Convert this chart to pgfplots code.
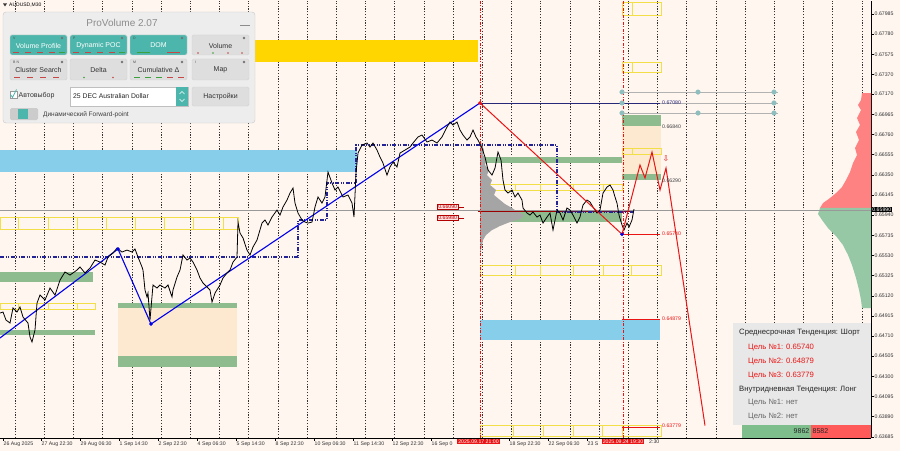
\documentclass[border=0pt]{standalone}
\usepackage{fontspec}
\setmainfont{Liberation Sans}
\newfontfamily\djv{DejaVu Sans}
\usepackage{pgfplots}
\usepackage{pgfplotstable}
\pgfplotsset{compat=1.18}

\definecolor{bg}{RGB}{255,246,240}
\definecolor{goldz}{RGB}{255,214,0}
\definecolor{skyz}{RGB}{135,206,235}
\definecolor{greenz}{RGB}{143,188,143}
\definecolor{peachz}{RGB}{252,233,207}
\definecolor{yelz}{RGB}{242,222,70}
\definecolor{navyd}{RGB}{35,35,150}
\definecolor{navyl}{RGB}{40,40,120}
\definecolor{bluel}{RGB}{0,0,235}
\definecolor{redl}{RGB}{235,20,20}
\definecolor{profg}{RGB}{165,165,165}
\definecolor{profr}{RGB}{255,130,130}
\definecolor{profgr}{RGB}{150,200,165}
\definecolor{tealc}{RGB}{143,190,190}
\definecolor{teal2}{RGB}{77,182,172}
\definecolor{panelbg}{RGB}{237,237,237}
\definecolor{btng}{RGB}{222,222,222}
\definecolor{infobg}{RGB}{232,232,232}
\definecolor{barg}{RGB}{125,190,140}
\definecolor{barr}{RGB}{255,90,90}
\definecolor{dred}{RGB}{200,70,70}
\definecolor{dgrn}{RGB}{60,160,60}

\newcommand{\fs}[1]{\fontsize{#1}{#1}\selectfont}
% filled zone / outlined box / divider, all in axis units
\newcommand{\zone}[5]{\addplot[#5, draw=none] coordinates {(#1,#3) (#2,#3) (#2,#4) (#1,#4)} -- cycle;}
\newcommand{\ybox}[4]{\addplot[yelz, line width=0.8pt] coordinates {(#1,#3) (#2,#3) (#2,#4) (#1,#4)} -- cycle;}
\newcommand{\yv}[3]{\addplot[yelz, line width=0.8pt] coordinates {(#1,#2) (#1,#3)};}
% panel button
\newcommand{\btn}[7]{\filldraw[fill=#5, draw=black!18, rounded corners=1.5pt] (#1,#2) rectangle (#3,#4);
  \node[text=#6, font=\fs{7}, inner sep=0] at ({(#1+#3)/2},{#2+10.5}) {#7};}
\newcommand{\dsh}[3]{\draw[#3, line width=0.8pt] (#1,#2) -- ++(6,0);}

\pgfplotstableread{
x y
0 0.64944
3 0.64954
6 0.64873
10 0.64842
13 0.64995
17 0.64954
20 0.65005
23 0.64903
28 0.64842
30 0.64700
32 0.64649
35 0.64771
37 0.65045
40 0.65127
45 0.65076
50 0.65198
55 0.65127
60 0.65279
65 0.65361
70 0.65330
77 0.65381
80 0.65412
85 0.65351
90 0.65401
95 0.65483
100 0.65462
105 0.65432
108 0.65513
113 0.65554
117 0.65605
122 0.65564
127 0.65584
132 0.65564
135 0.65595
138 0.65513
142 0.65412
143 0.65381
145 0.65178
147 0.65107
148 0.65147
150 0.64873
153 0.65229
157 0.65198
160 0.65229
165 0.65198
168 0.65229
172 0.65107
173 0.65178
177 0.65310
180 0.65381
183 0.65534
187 0.65483
190 0.65503
193 0.65462
197 0.65381
200 0.65300
203 0.65249
207 0.65208
210 0.65178
212 0.65056
215 0.65147
220 0.65229
223 0.65300
227 0.65351
230 0.65381
233 0.65462
237 0.65513
238 0.65869
240 0.65757
243 0.65707
247 0.65584
250 0.65534
253 0.65615
257 0.65686
262 0.65859
265 0.65890
268 0.65839
272 0.65920
277 0.65991
280 0.65940
283 0.66022
287 0.66093
290 0.66164
293 0.66215
295 0.66062
298 0.65961
302 0.65890
305 0.65869
308 0.65859
312 0.65869
315 0.66022
318 0.66124
322 0.66062
325 0.66124
328 0.66378
332 0.66266
335 0.66195
338 0.66225
343 0.66124
348 0.66144
352 0.66062
354 0.65920
356 0.66368
358 0.66571
362 0.66652
367 0.66673
370 0.66632
373 0.66673
377 0.66601
380 0.66530
383 0.66469
387 0.66347
390 0.66429
393 0.66479
397 0.66429
400 0.66571
405 0.66601
410 0.66632
413 0.66673
418 0.66734
422 0.66754
427 0.66683
432 0.66703
437 0.66673
442 0.66734
447 0.66835
450 0.66886
453 0.66856
457 0.66886
460 0.66805
463 0.66754
467 0.66703
470 0.66734
473 0.66805
476 0.66734
478 0.66703
482 0.66622
485 0.66530
488 0.66398
492 0.66347
495 0.66418
498 0.66581
501 0.66500
503 0.66296
505 0.66195
508 0.66164
512 0.66195
515 0.66124
518 0.66164
522 0.66093
523 0.66012
527 0.65961
530 0.65940
533 0.65971
537 0.65920
540 0.65940
543 0.65859
547 0.65920
550 0.65961
553 0.65788
557 0.65991
560 0.65961
563 0.65890
567 0.66012
570 0.65991
573 0.65940
577 0.65859
580 0.65920
583 0.66042
587 0.66093
590 0.66073
593 0.66022
597 0.65961
600 0.65991
603 0.66164
607 0.66225
610 0.66246
613 0.66195
615 0.66124
617 0.66062
619 0.65940
622 0.65839
624 0.65788
627 0.65859
629 0.65818
632 0.65890
634 0.66001
}\pricedata

\begin{document}
\begin{tikzpicture}
\useasboundingbox (0,0) rectangle (900pt,451pt);
\fill[bg] (0,0) rectangle (900pt,451pt);

\begin{axis}[
  at={(0pt,13pt)}, anchor=south west,
  scale only axis, width=871pt, height=437pt,
  xmin=0, xmax=871, ymin=0.63673, ymax=0.68117,
  axis x line*=bottom, axis y line*=right,
  axis line style={black, line width=0.5pt, -},
  tick align=outside, major tick length=2.5pt,
  tick style={black, line width=0.4pt},
  ytick={0.63685,0.63890,0.64095,0.64300,0.64505,0.64710,0.64915,0.65120,0.65325,0.65530,0.65735,0.65940,0.66145,0.66350,0.66555,0.66760,0.66965,0.67170,0.67370,0.67575,0.67780,0.67985},
  yticklabels={0.63685,0.63890,0.64095,0.64300,0.64505,0.64710,0.64915,0.65120,0.65325,0.65530,0.65735,0.65940,0.66145,0.66350,0.66555,0.66760,0.66965,0.67170,0.67370,0.67575,0.67780,0.67985},
  yticklabel style={font=\fs{5.2}, text=black!80, inner sep=1pt},
  xtick={3,41,80,119,158,197,236,275,314,353,392,431,509,548,587},
  xticklabels={26 Aug 2025,27 Aug 22:30,29 Aug 06:30,1 Sep 14:30,2 Sep 22:30,4 Sep 06:30,5 Sep 14:30,8 Sep 22:30,10 Sep 06:30,11 Sep 14:30,12 Sep 22:30,16 Sep 0,18 Sep 22:30,22 Sep 06:30,23 S},
  xticklabel style={font=\fs{5.2}, text=black!80, anchor=north west, inner sep=0.5pt, yshift=-0.5pt},
  extra x ticks={15,44.2,...,862},
  extra x tick labels={},
  extra x tick style={grid=major, major tick length=0pt},
  major grid style={black!80, line width=0.35pt, dash pattern=on 1.2pt off 1.6pt},
]
% zones
\zone{0}{357}{0.66601}{0.66378}{fill=skyz}
\zone{250}{478}{0.67720}{0.67496}{fill=goldz}
\zone{480}{660}{0.64873}{0.64669}{fill=skyz}
\zone{118}{237}{0.64995}{0.64507}{fill=peachz}
\zone{622}{661}{0.66846}{0.66357}{fill=peachz}
\zone{0}{95}{0.64771}{0.64720}{fill=greenz}
\zone{0}{93}{0.65361}{0.65259}{fill=greenz}
\zone{118}{237}{0.65045}{0.64995}{fill=greenz}
\zone{118}{237}{0.64507}{0.64395}{fill=greenz}
\zone{480}{622}{0.66530}{0.66469}{fill=greenz}
\zone{480}{622}{0.65971}{0.65869}{fill=greenz}
\zone{622}{661}{0.66957}{0.66846}{fill=greenz}
\zone{622}{661}{0.66357}{0.66296}{fill=greenz}

% yellow session boxes
\ybox{0}{238}{0.65920}{0.65798}
\yv{18}{0.65920}{0.65798}\yv{48}{0.65920}{0.65798}\yv{77}{0.65920}{0.65798}\yv{106}{0.65920}{0.65798}
\yv{135}{0.65920}{0.65798}\yv{164}{0.65920}{0.65798}\yv{193}{0.65920}{0.65798}\yv{223}{0.65920}{0.65798}
\ybox{0}{95}{0.65045}{0.64984}
\yv{18}{0.65045}{0.64984}\yv{48}{0.65045}{0.64984}\yv{77}{0.65045}{0.64984}
\ybox{480}{622}{0.66256}{0.66195}
\yv{515}{0.66256}{0.66195}\yv{540}{0.66256}{0.66195}\yv{573}{0.66256}{0.66195}\yv{603}{0.66256}{0.66195}
\ybox{480}{661}{0.65432}{0.65330}
\yv{515}{0.65432}{0.65330}\yv{540}{0.65432}{0.65330}\yv{573}{0.65432}{0.65330}\yv{603}{0.65432}{0.65330}\yv{631}{0.65432}{0.65330}
\ybox{480}{661}{0.63805}{0.63693}
\yv{513}{0.63805}{0.63693}\yv{543}{0.63805}{0.63693}\yv{573}{0.63805}{0.63693}\yv{602}{0.63805}{0.63693}\yv{622}{0.63805}{0.63693}
\ybox{622}{661}{0.66622}{0.66561}\yv{632}{0.66622}{0.66561}
\ybox{622}{661}{0.67496}{0.67395}\yv{632}{0.67496}{0.67395}
\ybox{622}{661}{0.68107}{0.67974}\yv{632}{0.68107}{0.67974}

% volume profile of the last days
\addplot[fill=profg, draw=none] coordinates {(480,0.66703) (482,0.66652) (484,0.66601) (483,0.66551) (486,0.66500) (485,0.66449) (489,0.66398) (487,0.66347) (492,0.66296) (490,0.66246) (496,0.66195) (494,0.66144) (500,0.66093) (505,0.66052) (512,0.66012) (518,0.65971) (524,0.65940) (520,0.65900) (510,0.65869) (500,0.65829) (492,0.65788) (486,0.65737) (483,0.65686) (481,0.65584) (480,0.65534)} -- cycle;
% right-side profile
\addplot[fill=profr, draw=none] coordinates {(871,0.67181) (862,0.67181) (861,0.67110) (858,0.67059) (861,0.67008) (857,0.66927) (860,0.66856) (856,0.66785) (859,0.66703) (855,0.66622) (857,0.66551) (853,0.66469) (850,0.66378) (846,0.66296) (842,0.66225) (836,0.66164) (830,0.66113) (823,0.66062) (820,0.66012) (871,0.66012)} -- cycle;
\addplot[fill=profgr, draw=none] coordinates {(871,0.66012) (820,0.66012) (818,0.65951) (822,0.65890) (828,0.65808) (836,0.65727) (843,0.65635) (848,0.65534) (852,0.65432) (856,0.65300) (859,0.65178) (861,0.65076) (862,0.64995) (871,0.64995)} -- cycle;

% bid line
\addplot[black!40, line width=0.4pt] coordinates {(0,0.65990) (871,0.65990)};
\addplot[red!60!black, line width=0.5pt] coordinates {(478,0.65980) (634,0.65980)};

% dynamic POC steps
\addplot[navyd, line width=1.2pt, dash pattern=on 4pt off 1.5pt on 1pt off 1.5pt on 1pt off 1.5pt] coordinates {(0,0.65513) (298,0.65513) (298,0.65890) (327,0.65890) (327,0.66266) (356,0.66266) (356,0.66652) (557,0.66652) (557,0.65971) (633,0.65971)};
\addplot[navyl, line width=0.9pt] coordinates {(480,0.67080) (660,0.67080)};
\addplot[black!30, line width=0.4pt] coordinates {(622,0.67191) (778,0.67191)};
\addplot[black!30, line width=0.4pt] coordinates {(622,0.66978) (778,0.66978)};
\addplot[black!30, line width=0.4pt] coordinates {(660,0.67080) (778,0.67080)};
\addplot[only marks, mark=*, mark size=2.3pt, color=tealc] coordinates {(622,0.67191) (622,0.67080) (622,0.66978) (698,0.67191) (698,0.66978) (774,0.67191) (774,0.67080) (774,0.66978)};

% trend zigzag
\addplot[bluel, line width=1.1pt] coordinates {(0,0.64690) (118,0.65595) (151,0.64832) (480,0.67080)};

% price
\addplot[black, line width=0.8pt] table[x=x, y=y] {\pricedata};

% red forecast
\addplot[redl, line width=0.6pt, dash pattern=on 3pt off 1.5pt on 1pt off 1.5pt] coordinates {(480,0.63673) (480,0.68117)};
\addplot[redl, line width=0.6pt, dash pattern=on 3pt off 1.5pt on 1pt off 1.5pt] coordinates {(623,0.63673) (623,0.68117)};
\addplot[redl, line width=1pt] coordinates {(480,0.67080) (622,0.65745)};
\addplot[redl, line width=1pt] coordinates {(622,0.65745) (640,0.66449) (645,0.66317) (652,0.66581) (660,0.66195) (666,0.66418) (705,0.63800)};
\addplot[redl, line width=1pt] coordinates {(622,0.65745) (660,0.65745)};
\addplot[redl, line width=1pt] coordinates {(622,0.64879) (660,0.64879)};
\addplot[redl, line width=1pt] coordinates {(622,0.63779) (660,0.63779)};
\addplot[only marks, mark=*, mark size=1.6pt, color=bluel] coordinates {(118,0.65595) (151,0.64832) (622,0.65745)};
\addplot[only marks, mark=*, mark size=1.6pt, color=redl] coordinates {(480,0.67080)};
\end{axis}

\begin{scope}[x=1pt, y=-1pt, yshift=451pt]
% level labels
\node[anchor=west, inner sep=0, font=\fs{5.2}, text=navyl] at (662,103) {0.67080};
\node[anchor=west, inner sep=0, font=\fs{5.2}, text=black!75] at (662,126.5) {0.66840};
\node[anchor=west, inner sep=0, font=\fs{5.2}, text=black!75] at (662,180.5) {0.66290};
\node[anchor=west, inner sep=0, font=\fs{5.2}, text=redl] at (662,234) {0.65740};
\node[anchor=west, inner sep=0, font=\fs{5.2}, text=redl] at (662,319) {0.64879};
\node[anchor=west, inner sep=0, font=\fs{5.2}, text=redl] at (662,426) {0.63779};
\node[inner sep=0, font=\djv\fs{8}, text=redl] at (666,159) {⇩};
\node[fill=red!12, draw=red!70!black, text=red!75!black, font=\fs{5.2}, inner sep=0.7pt, anchor=east] at (458,207) {0.66090};
\node[fill=red!12, draw=red!70!black, text=red!75!black, font=\fs{5.2}, inner sep=0.7pt, anchor=east] at (458,218) {0.65980};
\draw[red!70!black, line width=0.5pt] (458,207) -- (464,207) (458,218) -- (464,218);
% date flags and last price
\node[fill=redl, text=white, font=\fs{5.2}, inner sep=0.8pt] at (478.5,441.5) {2025.09.17 21:00};
\node[fill=redl, text=white, font=\fs{5.2}, inner sep=0.8pt] at (623,441.5) {2025.09.24 19:30};
\node[anchor=west, inner sep=0.5pt, font=\fs{5.2}, text=black!80] at (648.5,442) {2:30};
\node[fill=black, text=white, font=\fs{5.2}, inner sep=0.7pt, anchor=west] at (871.5,209.5) {0.65990};
% symbol caption
\fill[black!80] (3,3.5) -- (7,3.5) -- (5,6.5) -- cycle;
\node[anchor=west, inner sep=0, font=\fs{5}] at (9,5.5) {AUDUSD,M30};

% info box
\fill[infobg] (733,323) rectangle (870.5,425);
\node[anchor=west, inner sep=0, font=\fs{7.7}, text=black!85] at (739,333) {Среднесрочная Тенденция: Шорт};
\node[anchor=west, inner sep=0, font=\fs{7.7}, text=redl] at (748,348) {Цель №1: 0.65740};
\node[anchor=west, inner sep=0, font=\fs{7.7}, text=redl] at (748,362) {Цель №2: 0.64879};
\node[anchor=west, inner sep=0, font=\fs{7.7}, text=redl] at (748,375.5) {Цель №3: 0.63779};
\node[anchor=west, inner sep=0, font=\fs{7.7}, text=black!85] at (739,389.5) {Внутридневная Тенденция: Лонг};
\node[anchor=west, inner sep=0, font=\fs{7.7}, text=black!60] at (748,403) {Цель №1: нет};
\node[anchor=west, inner sep=0, font=\fs{7.7}, text=black!60] at (748,416.5) {Цель №2: нет};
\fill[barg] (742,425) rectangle (811,437.5);
\fill[barr] (811,425) rectangle (870.5,437.5);
\node[anchor=east, inner sep=0, font=\fs{7}, text=black!85] at (809.5,431.5) {9862};
\node[anchor=west, inner sep=0, font=\fs{7}, text=black!85] at (812.5,431.5) {8582};

% ProVolume panel
\filldraw[fill=panelbg, draw=black!22, rounded corners=3pt] (3,12) rectangle (255,123);
\node[text=black!45, font=\fs{10}, inner sep=0] at (122,23) {ProVolume 2.07};
\draw[black!45, line width=1pt] (240,26) -- (250,26);
\btn{10}{35}{67}{55}{teal2}{white}{Volume Profile}
\btn{70}{35}{127}{55}{teal2}{white}{Dynamic POC}
\btn{130}{35}{187}{55}{teal2}{white}{DOM}
\btn{192}{35}{249}{55}{btng}{black!80}{Volume}
\btn{10}{59}{67}{80}{btng}{black!80}{Cluster Search}
\btn{70}{59}{127}{80}{btng}{black!80}{Delta}
\btn{130}{59}{187}{80}{btng}{black!80}{Cumulative Δ}
\btn{192}{59}{249}{80}{btng}{black!80}{Map}
\foreach \x/\l in {13/V,73/P,133/D} {\node[anchor=west, inner sep=0, font=\fs{3.5}, text=black!70] at (\x,38) {\l};}
\foreach \x/\l in {13/B N,133/M,195/I} {\node[anchor=west, inner sep=0, font=\fs{3.5}, text=black!70] at (\x,62) {\l};}
\foreach \x in {62,122,182,244} {\fill[black!55] (\x,38) circle (1.3); \fill[black!55] (\x,62) circle (1.3);}
\dsh{13}{52.5}{dred}\dsh{25}{52.5}{dred}\dsh{37}{52.5}{dred}\dsh{49}{52.5}{dred}\dsh{59}{52.5}{dgrn}
\dsh{73}{52.5}{dred}\dsh{85}{52.5}{dred}\dsh{97}{52.5}{dred}\dsh{109}{52.5}{dred}\dsh{119}{52.5}{dgrn}
\draw[dgrn, line width=0.8pt] (137,52.5) -- (150,52.5);
\draw[dred, line width=0.8pt] (167,52.5) -- (180,52.5);
\fill[dred] (198,53) circle (0.9); \fill[dgrn] (213,53) circle (0.9); \fill[dred] (228,53) circle (0.9); \fill[dred] (242,53) circle (0.9);
\dsh{14}{77}{dred}\dsh{27}{77}{dred}\dsh{40}{77}{dred}\dsh{53}{77}{dred}
\fill[dgrn] (84,77.5) circle (0.9); \fill[dred] (113,77.5) circle (0.9);
\dsh{134}{77}{dgrn}\dsh{145}{77}{dgrn}\dsh{156}{77}{dgrn}\dsh{167}{77}{dred}\dsh{178}{77}{dred}
\filldraw[fill=white, draw=black!40] (10,91) rectangle (17,98);
\draw[teal2, line width=0.7pt] (10.5,94.5) -- (12.5,97.5) -- (16.5,89.5);
\node[anchor=west, inner sep=0, font=\fs{7}, text=black!80] at (18.5,95.5) {Автовыбор};
\filldraw[fill=white, draw=black!25] (70,87) rectangle (188,106);
\fill[teal2] (176,87) rectangle (188,106);
\draw[white, line width=0.5pt] (179.5,94) -- (182,91.5) -- (184.5,94) (179.5,99) -- (182,101.5) -- (184.5,99);
\node[anchor=west, inner sep=0, font=\fs{6.8}, text=black!85] at (73,96.5) {25 DEC Australian Dollar};
\filldraw[fill=btng, draw=black!18, rounded corners=1.5pt] (192,87) rectangle (249,106);
\node[inner sep=0, font=\fs{7}, text=black!80] at (220.5,97) {Настройки};
\fill[black!20, rounded corners=1.5pt] (10,108) rectangle (38,120);
\fill[teal2] (18,109) rectangle (28,119);
\node[anchor=west, inner sep=0, font=\fs{6.5}, text=black!75] at (43,114.5) {Динамический Forward-point};
\end{scope}
\end{tikzpicture}
\end{document}
